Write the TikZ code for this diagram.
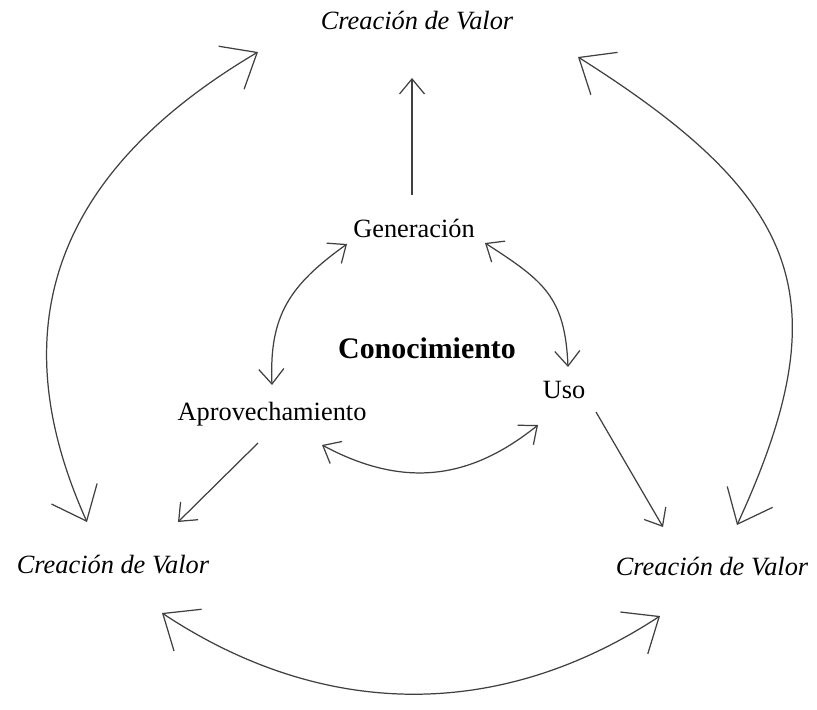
\documentclass[tikz,border=0pt]{standalone}
\usepackage{fontspec}
\setmainfont{Liberation Serif}
\usetikzlibrary{arrows.meta}

\begin{document}
\begin{tikzpicture}[x=0.02cm,y=-0.02cm,%%
  labelStyle/.style={anchor=base,inner sep=0pt,font=\fontsize{15}{18}\selectfont},%%
  valueStyle/.style={anchor=base,inner sep=0pt,font=\fontsize{15}{18}\selectfont\itshape},%%
  titleStyle/.style={anchor=base,inner sep=0pt,font=\fontsize{17}{20}\selectfont\bfseries},%%
  bigArrowStyle/.style={<->,>={Straight Barb[length=6mm,width=10mm]},line width=0.7pt,black!75},%%
  smallArrowStyle/.style={>={Straight Barb[length=3mm,width=5mm]},line width=0.7pt,black!75}%%
]
%%
\fill[white] (0,0) rectangle (817,709);
\useasboundingbox (0,0) rectangle (817,709);
%%
%% The labels.
\node[valueStyle] (valTop) at (417,30) {Creación de Valor};
\node[valueStyle] (valLeft) at (113,573) {Creación de Valor};
\node[valueStyle] (valRight) at (712,575) {Creación de Valor};
\node[labelStyle] (gen) at (414,238) {Generación};
\node[titleStyle] (know) at (427,358) {Conocimiento};
\node[labelStyle] (use) at (564,398) {Uso};
\node[labelStyle] (exploit) at (272,420) {Aprovechamiento};
%%
%% Straight arrows out of the inner cycle.
\draw[smallArrowStyle,->] ([shift={(-2,-43)}]gen.base) -- ([shift={(-5,48)}]valTop.base);
\draw[smallArrowStyle,->] ([shift={(-14,23)}]exploit.base) -- ([shift={(65,-51)}]valLeft.base);
\draw[smallArrowStyle,->] ([shift={(32,14)}]use.base) -- ([shift={(-49,-48)}]valRight.base);
%%
%% The inner cycle.
\draw[smallArrowStyle,<->] ([shift={(0,-35)}]exploit.base)
  .. controls +(-3,-70) and +(-57,41) .. ([shift={(-67,6)}]gen.base);
\draw[smallArrowStyle,<->] ([shift={(71,5)}]gen.base)
  .. controls +(59,38) and +(-3,-70) .. ([shift={(4,-31)}]use.base);
\draw[smallArrowStyle,<->] ([shift={(50,25)}]exploit.base)
  .. controls +(84,45) and +(-66,53) .. ([shift={(-26,27)}]use.base);
%%
%% The outer cycle.
\draw[bigArrowStyle] ([shift={(-26,-51)}]valLeft.base)
  .. controls +(-90,-200) and +(-198,117) .. ([shift={(-159,22)}]valTop.base);
\draw[bigArrowStyle] ([shift={(161,27)}]valTop.base)
  .. controls +(225,142) and +(104,-226) .. ([shift={(25,-50)}]valRight.base);
\draw[bigArrowStyle] ([shift={(49,40)}]valLeft.base)
  .. controls +(160,106) and +(-162,106) .. ([shift={(-52,41)}]valRight.base);
\end{tikzpicture}
\end{document}
